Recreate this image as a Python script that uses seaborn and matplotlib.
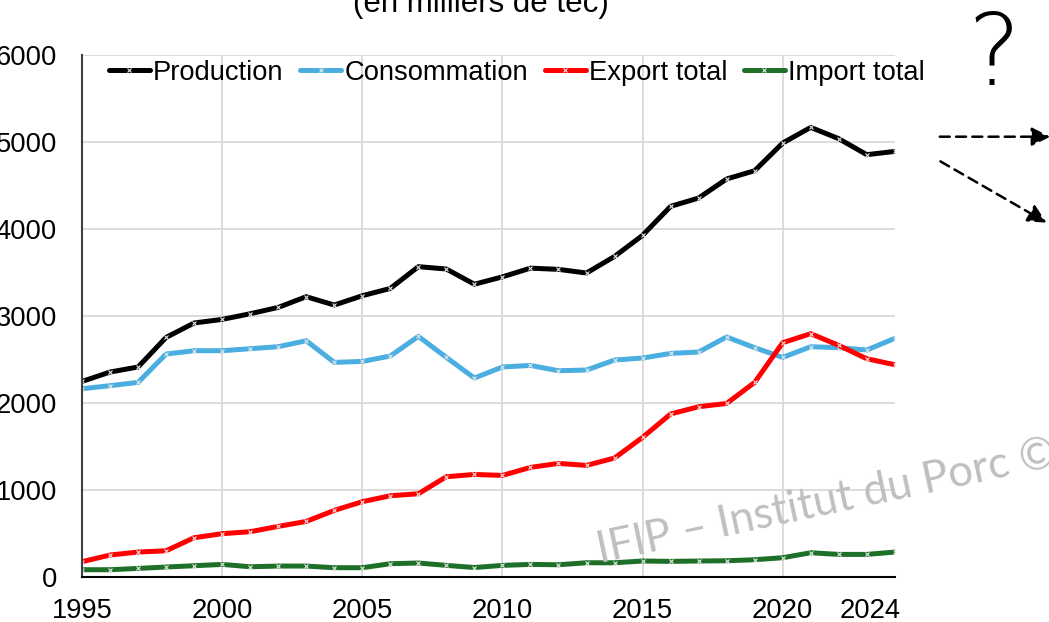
import pandas as pd
import matplotlib.pyplot as plt
import matplotlib.transforms as mtransforms
import seaborn as sns
from matplotlib.patches import FancyArrowPatch

# Valeurs (en milliers de tec)
years = list(range(1995, 2025))
production = [2248, 2356, 2414, 2754, 2920, 2961, 3026, 3099, 3222, 3126,
              3233, 3317, 3567, 3540, 3365, 3450, 3550, 3536, 3494, 3685,
              3927, 4260, 4356, 4575, 4670, 4988, 5168, 5038, 4854, 4892]
consommation = [2164, 2199, 2237, 2563, 2601, 2601, 2624, 2647, 2716, 2467,
                2478, 2540, 2766, 2524, 2287, 2414, 2432, 2371, 2379, 2494,
                2517, 2570, 2586, 2759, 2636, 2524, 2647, 2636, 2609, 2743]
export_total = [176, 253, 287, 302, 452, 498, 521, 582, 639, 766,
                866, 934, 957, 1153, 1179, 1168, 1260, 1306, 1283, 1368,
                1605, 1874, 1957, 1995, 2237, 2693, 2797, 2662, 2509, 2440]
import_total = [84, 84, 99, 115, 130, 145, 118, 126, 126, 107,
                107, 153, 161, 134, 109, 134, 145, 141, 164, 164,
                184, 180, 184, 187, 199, 222, 279, 260, 260, 287]

series_names = ['Production', 'Consommation', 'Export total', 'Import total']
colors = ['#000000', '#4BAEE0', '#FF0000', '#1E7028']
x_ticks = [1995, 2000, 2005, 2010, 2015, 2020, 2024]

df = pd.DataFrame({
    'Année': years * 4,
    'Valeur': production + consommation + export_total + import_total,
    'Série': [n for n in series_names for _ in years],
})

sns.set_style('white')
plt.rcParams['font.family'] = ['Liberation Sans', 'DejaVu Sans']
for k in ['text.color', 'axes.labelcolor', 'xtick.color', 'ytick.color']:
    plt.rcParams[k] = 'black'

fig = plt.figure(figsize=(10.49, 6.22), dpi=100)
ax = fig.add_axes([0.0782, 0.0723, 0.7748, 0.8393])

sns.lineplot(data=df, x='Année', y='Valeur', hue='Série', hue_order=series_names,
             palette=colors, linewidth=3.6, marker='x', markersize=3.5,
             markeredgecolor='#e6e6e6', markeredgewidth=0.8, ax=ax)

ax.set_xlim(1995, 2024)
ax.set_ylim(0, 6000)
ax.set_xticks(x_ticks)
ax.set_yticks(range(0, 6001, 1000))
ax.set(xlabel='', ylabel='')
ax.grid(True, color='#d9d9d9', linewidth=1.3)
ax.xaxis.get_gridlines()[-1].set_visible(False)
ax.set_axisbelow(True)
ax.tick_params(axis='y', length=0, pad=18, labelsize=19.7)
ax.tick_params(axis='x', length=0, pad=15, labelsize=19.7)
for s in ['top', 'right']:
    ax.spines[s].set_visible(False)
ax.spines['left'].set_color('#404040')
ax.spines['left'].set_linewidth(1.5)
ax.spines['bottom'].set_color('#000000')
ax.spines['bottom'].set_linewidth(1.5)

# le dernier libellé (2024) est décalé vers la gauche comme dans Excel
last = ax.get_xticklabels()[-1]
last.set_horizontalalignment('right')
last.set_transform(last.get_transform() + mtransforms.ScaledTranslation(6 / 100, 0, fig.dpi_scale_trans))

sns.move_legend(ax, 'center', bbox_to_anchor=(0.535, 0.966), ncol=4, frameon=False,
                title=None, fontsize=19.7, handlelength=1.5, handletextpad=0.12,
                columnspacing=0.6, borderaxespad=0)

# titre (coupé en haut de l'image)
fig.text(480.5 / 1049, 1 - 12 / 622, '(en milliers de tec)', ha='center',
         va='baseline', fontsize=22.5)

# filigrane
fig.text(600 / 1049, 1 - 563 / 622, 'IFIP – Institut du Porc ©', rotation=12,
         rotation_mode='anchor', ha='left', va='baseline', fontsize=31.5,
         color='#bfbfbf', family=['Lato', 'DejaVu Sans'])

# point d'interrogation et flèches
fig.text(994 / 1049, 1 - 85 / 622, '?', ha='center', va='baseline', fontsize=72,
         fontweight='light', family=['DejaVu Sans'])

def px(x, y):
    return (x / 1049, 1 - y / 622)

for (x0, y0), (x1, y1) in [((937, 136.7), (1053, 136.7)), ((938, 160), (1049, 224))]:
    fig.add_artist(FancyArrowPatch(px(x0, y0), px(x1, y1), transform=fig.transFigure,
                                   arrowstyle='-|>', mutation_scale=28, linewidth=1.8,
                                   linestyle=(0, (4, 2.5)), color='black'))

plt.savefig('out.png', dpi=100)
